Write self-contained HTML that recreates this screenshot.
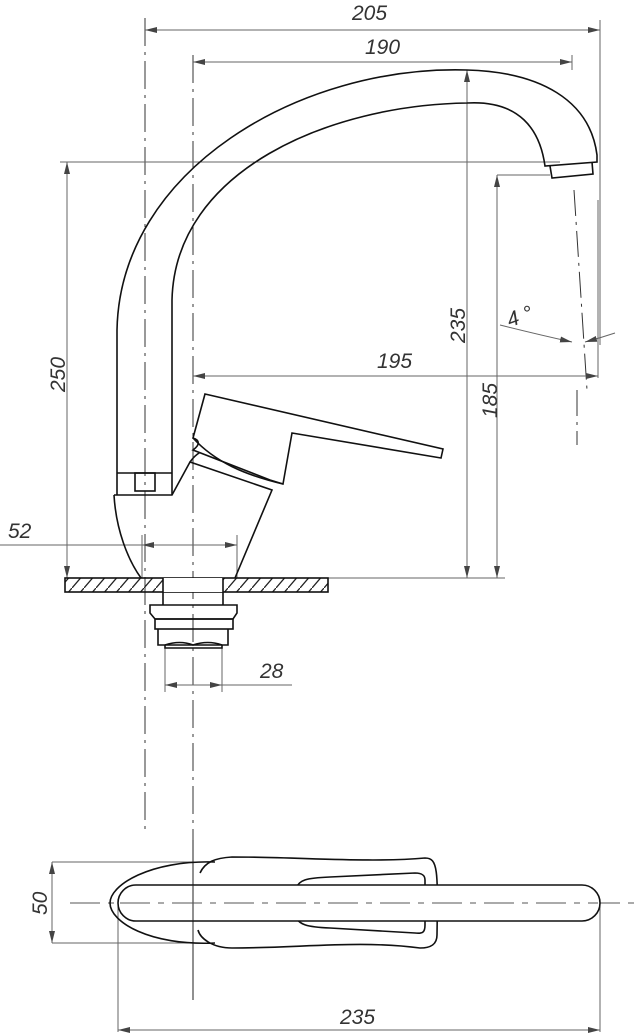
<!DOCTYPE html>
<html><head><meta charset="utf-8"><style>
html,body{margin:0;padding:0;background:#fff}
svg{display:block}
text{font-family:"Liberation Sans",sans-serif;font-style:italic;font-size:21px;fill:#333}
</style></head><body>
<svg width="634" height="1035" viewBox="0 0 634 1035" xmlns="http://www.w3.org/2000/svg">
<defs>
<marker id="a" viewBox="0 0 12 6" refX="12" refY="3" markerWidth="12" markerHeight="6" orient="auto-start-reverse" markerUnits="userSpaceOnUse"><path d="M0,0L12,3L0,6Z" fill="#444"/></marker>
<pattern id="h" width="12" height="14" patternUnits="userSpaceOnUse"><path d="M0,14L12,0" stroke="#222" stroke-width="1.3"/></pattern>
</defs>
<g fill="none" stroke="#666" stroke-width="1">
<line x1="145" y1="18" x2="145" y2="835" stroke-dasharray="28,6,3,6" stroke="#333"/>
<line x1="193" y1="55" x2="193" y2="845" stroke-dasharray="28,6,3,6" stroke="#333"/>
<line x1="574" y1="190" x2="587" y2="390" stroke-dasharray="26,6,3,6" stroke="#333"/>
<line x1="577" y1="390" x2="577" y2="445" stroke-dasharray="26,6,3,6" stroke="#333"/>
<line x1="600" y1="20" x2="600" y2="345"/>
<line x1="572" y1="55" x2="572" y2="70"/>
<line x1="598" y1="200" x2="598" y2="378"/>
<line x1="60" y1="162" x2="560" y2="162"/>
<line x1="497" y1="175" x2="550" y2="175"/>
<line x1="328" y1="578" x2="505" y2="578"/>
<line x1="142" y1="535" x2="142" y2="578"/>
<line x1="237" y1="535" x2="237" y2="578"/>
<line x1="165" y1="648" x2="165" y2="692"/>
<line x1="222" y1="648" x2="222" y2="692"/>
<line x1="145" y1="30" x2="600" y2="30" marker-start="url(#a)" marker-end="url(#a)"/>
<line x1="193" y1="62" x2="572" y2="62" marker-start="url(#a)" marker-end="url(#a)"/>
<line x1="467" y1="70" x2="467" y2="578" marker-start="url(#a)" marker-end="url(#a)"/>
<line x1="497" y1="175" x2="497" y2="578" marker-start="url(#a)" marker-end="url(#a)"/>
<line x1="67" y1="162" x2="67" y2="578" marker-start="url(#a)" marker-end="url(#a)"/>
<line x1="193" y1="376" x2="598" y2="376" marker-start="url(#a)" marker-end="url(#a)"/>
<line x1="0" y1="545" x2="142" y2="545"/>
<line x1="142" y1="545" x2="237" y2="545" marker-start="url(#a)" marker-end="url(#a)"/>
<line x1="165" y1="685" x2="222" y2="685" marker-start="url(#a)" marker-end="url(#a)"/>
<line x1="222" y1="685" x2="292" y2="685"/>
<path d="M500,325 Q540,335 572,342" marker-end="url(#a)"/>
<path d="M615,333 Q600,338 585,342" marker-end="url(#a)"/>
<line x1="52" y1="862" x2="200" y2="862"/>
<line x1="52" y1="943" x2="200" y2="943"/>
<line x1="52" y1="862" x2="52" y2="943" marker-start="url(#a)" marker-end="url(#a)"/>
<line x1="118" y1="905" x2="118" y2="1032"/>
<line x1="600" y1="905" x2="600" y2="1032"/>
<line x1="118" y1="1030" x2="600" y2="1030" marker-start="url(#a)" marker-end="url(#a)"/>
<line x1="70" y1="903" x2="634" y2="903" stroke-dasharray="30,8,6,8" stroke="#555"/>
<line x1="193" y1="840" x2="193" y2="1000" stroke="#222"/>
</g>
<g fill="none" stroke="#111" stroke-width="1.6">
<path d="M117,473 L117,330 C120,170 300,65 467,70 C540,72 590,100 597,155 L597,162 L545,166 C540,130 520,100 467,103 C330,105 175,170 172,300 L172,495"/>
<path d="M550,166 L552,178 L593,174 L592,162"/>
<line x1="117" y1="473" x2="172" y2="473"/>
<rect x="135" y="473" width="20" height="18"/>
<line x1="117" y1="473" x2="117" y2="495"/>
<path d="M114,495 L172,495 L190,462 L272,490 L235,578 M114,495 C116,530 128,560 141,578"/>
<path d="M190,462 C195,455 200,452 202,452"/>
<path d="M205,394 L443,449 L441,458 L292,433 L283,484 L270,480 L193,450 C200,445 200,440 193,438 Z" fill="#fff"/>
<path d="M193,438 C215,462 245,475 283,484"/>
<rect x="65" y="578" width="263" height="14" fill="url(#h)"/>
<rect x="163" y="578" width="60" height="14" fill="#fff" stroke="none"/>
<line x1="163" y1="578" x2="163" y2="605"/>
<line x1="223" y1="578" x2="223" y2="605"/>
<path d="M150,605 L237,605 L237,613 L233,619 L155,619 L150,613 Z"/>
<rect x="155" y="619" width="78" height="10"/>
<path d="M158,629 L158,645 L228,645 L228,629"/>
<path d="M165,645 L165,648 L222,648 L222,645 M165,645 Q180,640 193,645 Q208,640 222,645"/>
<path d="M215,862 C150,860 110,885 110,903 C110,922 150,946 215,943"/>
<path d="M200,873 C205,862 215,858 232,857 C300,857 370,863 425,858 C438,858 438,870 437,935 C437,945 430,948 420,948 C360,940 300,948 232,948 C212,948 200,938 198,930"/>
<path d="M296,888 C300,880 305,878 330,877 L415,873 C423,873 425,876 425,880 L425,925 C425,932 423,934 415,933 L330,928 C305,927 300,924 296,918"/>
<rect x="118" y="885" width="482" height="36" rx="18" fill="#fff"/>
</g>
<line x1="193" y1="885" x2="193" y2="921" stroke="#222"/>
<line x1="120" y1="903" x2="598" y2="903" stroke="#555" stroke-dasharray="30,8,6,8"/>
<text x="352" y="20">205</text>
<text x="365" y="54">190</text>
<text x="377" y="368">195</text>
<text x="8" y="538">52</text>
<text x="260" y="678">28</text>
<text x="340" y="1024">235</text>
<text x="507" y="325" transform="rotate(-20 515 318)">4 °</text>
<text transform="translate(465,343) rotate(-90)">235</text>
<text transform="translate(497,418) rotate(-90)">185</text>
<text transform="translate(65,392) rotate(-90)">250</text>
<text transform="translate(47,915) rotate(-90)">50</text>
</svg>
</body></html>
